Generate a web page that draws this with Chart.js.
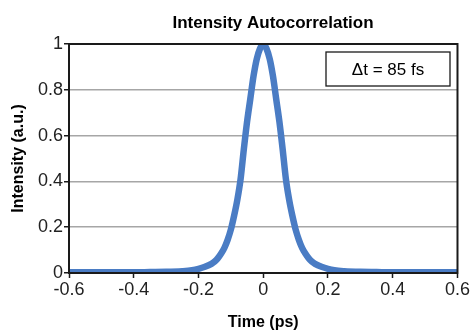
<!DOCTYPE html>
<html lang="en">
  <head>
    <meta charset="UTF-8" />
    <title>Intensity Autocorrelation</title>
    <script src="https://cdn.jsdelivr.net/npm/chart.js"></script>
    <style>
      html, body { margin: 0; padding: 0; background: #fff; }
      #wrap { width: 471px; height: 334px; }
    </style>
  </head>
  <body>
    <div id="wrap"><canvas id="acChart" width="471" height="334"></canvas></div>

    <script>
      // time delay (ps) and normalized intensity
      const timePs = [
        -0.6, -0.5, -0.4, -0.35, -0.3, -0.25, -0.22, -0.2, -0.18, -0.16, -0.15, -0.14, -0.13,
        -0.12, -0.11, -0.1, -0.09, -0.08, -0.07, -0.06, -0.05, -0.04, -0.03, -0.02, -0.01, 0,
        0.01, 0.02, 0.03, 0.04, 0.05, 0.06, 0.07, 0.08, 0.09, 0.1, 0.11, 0.12, 0.13, 0.14,
        0.15, 0.16, 0.18, 0.2, 0.22, 0.25, 0.3, 0.35, 0.4, 0.5, 0.6
      ];
      const intensity = [
        0.003, 0.003, 0.003, 0.004, 0.005, 0.008, 0.012, 0.018, 0.027, 0.04, 0.05, 0.065, 0.085,
        0.11, 0.145, 0.19, 0.25, 0.32, 0.41, 0.54, 0.66, 0.76, 0.86, 0.935, 0.98, 1.0,
        0.98, 0.935, 0.86, 0.76, 0.66, 0.54, 0.41, 0.32, 0.25, 0.19, 0.145, 0.11, 0.085, 0.065,
        0.05, 0.04, 0.027, 0.018, 0.012, 0.008, 0.005, 0.004, 0.003, 0.003, 0.003
      ];
      const xTicks = [-0.6, -0.4, -0.2, 0, 0.2, 0.4, 0.6];
      const yTicks = [0, 0.2, 0.4, 0.6, 0.8, 1];
      const chartTitle = "Intensity Autocorrelation";
      const widthNote = "\u0394t = 85 fs";

      const points = timePs.map((t, i) => ({ x: t, y: intensity[i] }));

      // frame around the plot, title and the width note box
      const decorations = {
        id: "decorations",
        afterDatasetsDraw(chart) {
          const { ctx, chartArea: a } = chart;
          ctx.save();
          ctx.strokeStyle = "#1a1a1a";
          ctx.lineWidth = 2;
          ctx.strokeRect(a.left, a.top, a.right - a.left, a.bottom - a.top);

          ctx.fillStyle = "#000";
          ctx.font = "bold 17px 'Liberation Sans', Arial, sans-serif";
          ctx.textAlign = "center";
          ctx.textBaseline = "middle";
          ctx.fillText(chartTitle, 273, 23);

          ctx.fillStyle = "#fff";
          ctx.fillRect(326, 52, 124, 34);
          ctx.lineWidth = 1.3;
          ctx.strokeRect(326, 52, 124, 34);
          ctx.fillStyle = "#000";
          ctx.font = "17px 'Liberation Sans', Arial, sans-serif";
          ctx.fillText(widthNote, 388, 70);
          ctx.restore();
        },
      };

      const ctx = document.getElementById("acChart").getContext("2d");
      new Chart(ctx, {
        type: "line",
        data: {
          datasets: [
            {
              data: points,
              borderColor: "#4a7cc4",
              borderWidth: 6.5,
              pointRadius: 0,
              tension: 0.4,
              cubicInterpolationMode: "monotone",
              clip: 0,
            },
          ],
        },
        options: {
          responsive: false,
          animation: false,
          layout: { padding: { top: 44, right: 10, left: 9, bottom: 0 } },
          plugins: {
            legend: { display: false },
            tooltip: { enabled: false },
          },
          scales: {
            x: {
              type: "linear",
              min: -0.6,
              max: 0.6,
              afterBuildTicks: (s) => { s.ticks = xTicks.map((v) => ({ value: v })); },
              afterFit: (s) => { s.height = 61; },
              grid: { drawOnChartArea: false, tickLength: 5, tickColor: "#1a1a1a", tickWidth: 1.5 },
              border: { color: "#1a1a1a", width: 2 },
              ticks: {
                color: "#222",
                padding: 1,
                font: { family: "'Liberation Sans', Arial, sans-serif", size: 18 },
                callback: (v) => String(Math.round(v * 10) / 10),
              },
              title: {
                display: true,
                text: "Time (ps)",
                color: "#000",
                font: { family: "'Liberation Sans', Arial, sans-serif", size: 16, weight: "bold" },
                padding: { top: 0, bottom: 2 },
              },
            },
            y: {
              min: 0,
              max: 1,
              afterBuildTicks: (s) => { s.ticks = yTicks.map((v) => ({ value: v })); },
              afterFit: (s) => { s.width = 60; },
              grid: { color: "#a6a6a6", lineWidth: 1.5, tickLength: 5, tickColor: "#1a1a1a", tickWidth: 1.5 },
              border: { color: "#1a1a1a", width: 2 },
              ticks: {
                color: "#222",
                padding: 1,
                font: { family: "'Liberation Sans', Arial, sans-serif", size: 18 },
                callback: (v) => String(Math.round(v * 10) / 10),
              },
              title: {
                display: true,
                text: "Intensity (a.u.)",
                color: "#000",
                font: { family: "'Liberation Sans', Arial, sans-serif", size: 16, weight: "bold" },
                padding: { top: 0, bottom: 0 },
              },
            },
          },
        },
        plugins: [decorations],
      });
    </script>
  </body>
</html>
